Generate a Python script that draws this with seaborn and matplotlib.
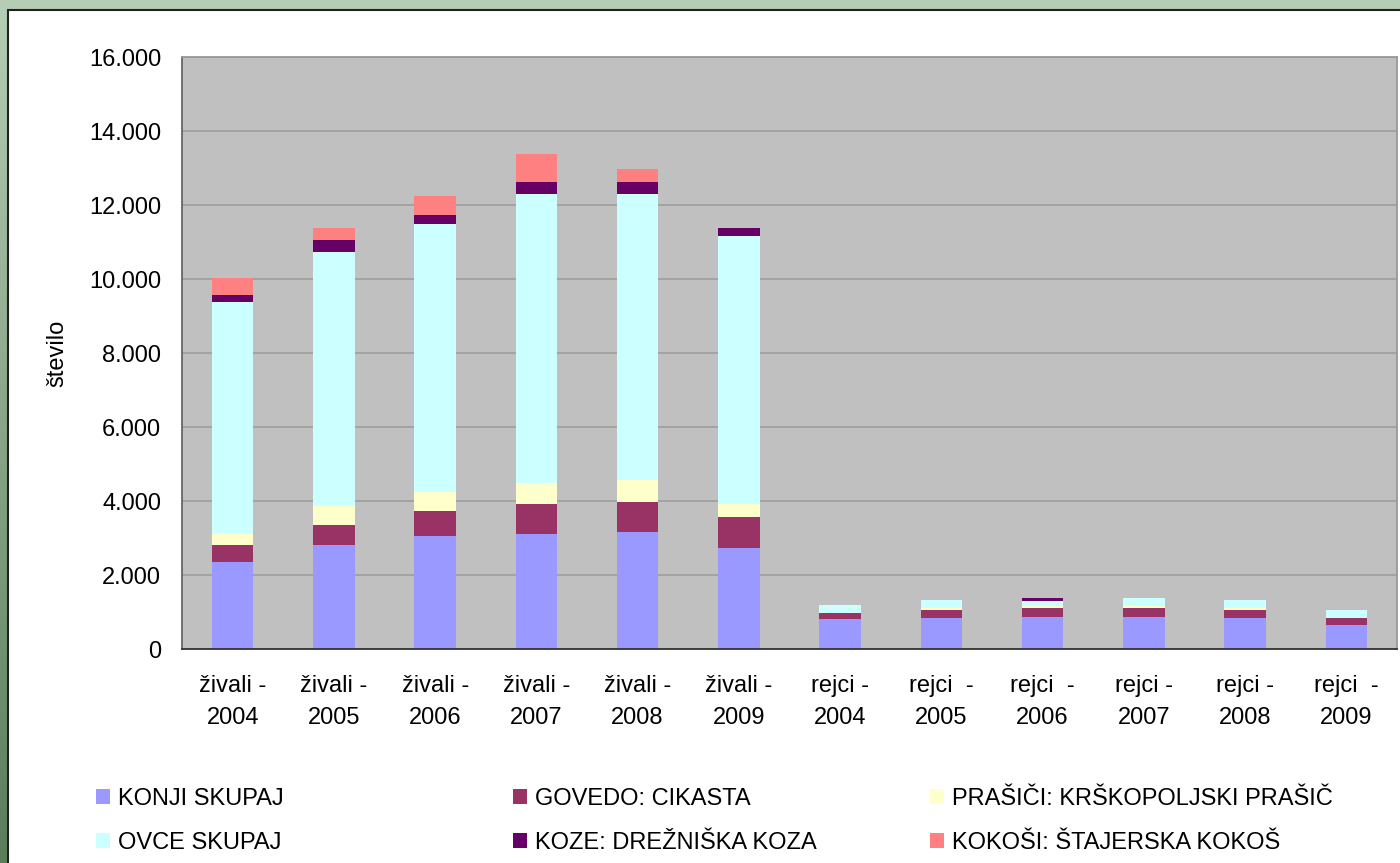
import numpy as np
import matplotlib
matplotlib.use("Agg")
import matplotlib.pyplot as plt
from matplotlib.patches import Rectangle, Patch
from matplotlib.ticker import FuncFormatter
from matplotlib.colors import LinearSegmentedColormap
import seaborn as sns

categories = ["živali -\n2004", "živali -\n2005", "živali -\n2006", "živali -\n2007",
              "živali -\n2008", "živali -\n2009", "rejci -\n2004", "rejci  -\n2005",
              "rejci  -\n2006", "rejci -\n2007", "rejci -\n2008", "rejci  -\n2009"]

series_names = ["KONJI SKUPAJ", "GOVEDO: CIKASTA", "PRAŠIČI: KRŠKOPOLJSKI PRAŠIČ",
                "OVCE SKUPAJ", "KOZE: DREŽNIŠKA KOZA", "KOKOŠI: ŠTAJERSKA KOKOŠ"]

konji = [2350, 2810, 3060, 3110, 3170, 2730, 810, 840, 870, 870, 840, 650]
govedo = [460, 540, 680, 810, 810, 840, 165, 215, 245, 245, 215, 190]
prasici = [300, 520, 510, 580, 580, 350, 0, 45, 55, 55, 45, 0]
ovce = [6280, 6850, 7240, 7800, 7750, 7240, 220, 225, 135, 220, 225, 215]
koze = [190, 330, 250, 320, 320, 220, 0, 0, 80, 0, 0, 0]
kokosi = [460, 320, 510, 760, 330, 0, 0, 0, 0, 0, 0, 0]

colors = ["#9999FF", "#993366", "#FFFFCC", "#CCFFFF", "#660066", "#FF8080"]

sns.set_style("white")
plt.rcParams["font.family"] = ["Liberation Sans", "DejaVu Sans"]
plt.rcParams["text.color"] = "black"
plt.rcParams["axes.labelcolor"] = "black"

fig = plt.figure(figsize=(14, 8.63), dpi=100)

# green frame behind the white chart area
bg = fig.add_axes([0, 0, 1, 1], zorder=-10)
green = LinearSegmentedColormap.from_list("g", ["#B6CDB6", "#5B7D5B"])
bg.imshow(np.linspace(0, 1, 256).reshape(-1, 1), aspect="auto", cmap=green,
          extent=[0, 1, 0, 1], origin="upper")
bg.axis("off")
fig.patches.append(Rectangle((8 / 1400, -0.01), 1.0, 1 - 10 / 863 + 0.01,
                             transform=fig.transFigure, facecolor="white",
                             edgecolor="#222222", lw=1.5, zorder=-5))

ax = fig.add_axes([182 / 1400, 1 - 649 / 863, (1397 - 182) / 1400, (649 - 57) / 863])
ax.set_facecolor("#C0C0C0")

# stacked bars: draw cumulative totals from the top layer down
layers = [konji, govedo, prasici, ovce, koze, kokosi]
cum = np.cumsum(np.array(layers), axis=0)
for i in range(len(layers) - 1, -1, -1):
    sns.barplot(x=categories, y=cum[i], color=colors[i], width=0.41,
                saturation=1, errorbar=None, linewidth=0, ax=ax, zorder=2)

ax.set_xlim(-0.5, 11.5)
ax.set_ylim(0, 16000)
ax.set_yticks(range(0, 16001, 2000))
ax.yaxis.set_major_formatter(FuncFormatter(lambda v, p: f"{int(v):,}".replace(",", ".")))
ax.yaxis.grid(True, color="#A0A0A0", lw=1.3)
ax.set_axisbelow(True)

ax.set_xticks(range(12))
ax.set_xticklabels(categories, fontsize=17, linespacing=1.55)
ax.set_xticks(np.arange(-0.5, 12, 1), minor=True)
ax.tick_params(axis="x", which="major", length=0, pad=19, labelcolor="black")
ax.tick_params(axis="x", which="minor", length=7, width=1.3, color="#555555", direction="out")
ax.tick_params(axis="y", length=7, width=1.3, color="#666666", direction="out",
               labelsize=17, pad=8, labelcolor="black")

ax.set_ylabel("število", fontsize=17, labelpad=15)
ax.set_xlabel("")

for s in ["top", "right"]:
    ax.spines[s].set_color("#999999")
    ax.spines[s].set_linewidth(1.3)
ax.spines["left"].set_color("#666666")
ax.spines["left"].set_linewidth(1.3)
ax.spines["bottom"].set_color("#333333")
ax.spines["bottom"].set_linewidth(1.3)

# legend: three columns placed like the original
col_x = [96, 513, 930]
for c in range(3):
    idx = [c, c + 3]
    handles = [Patch(facecolor=colors[k], edgecolor="none") for k in idx]
    fig.legend(handles, [series_names[k] for k in idx], loc="upper left",
               bbox_to_anchor=(col_x[c] / 1400, 1 - 788 / 863), frameon=False,
               fontsize=17, handlelength=0.6, handleheight=0.6, handletextpad=0.35,
               labelspacing=0.92, borderpad=0, borderaxespad=0, labelcolor="black")

fig.savefig("out.png", dpi=100)
